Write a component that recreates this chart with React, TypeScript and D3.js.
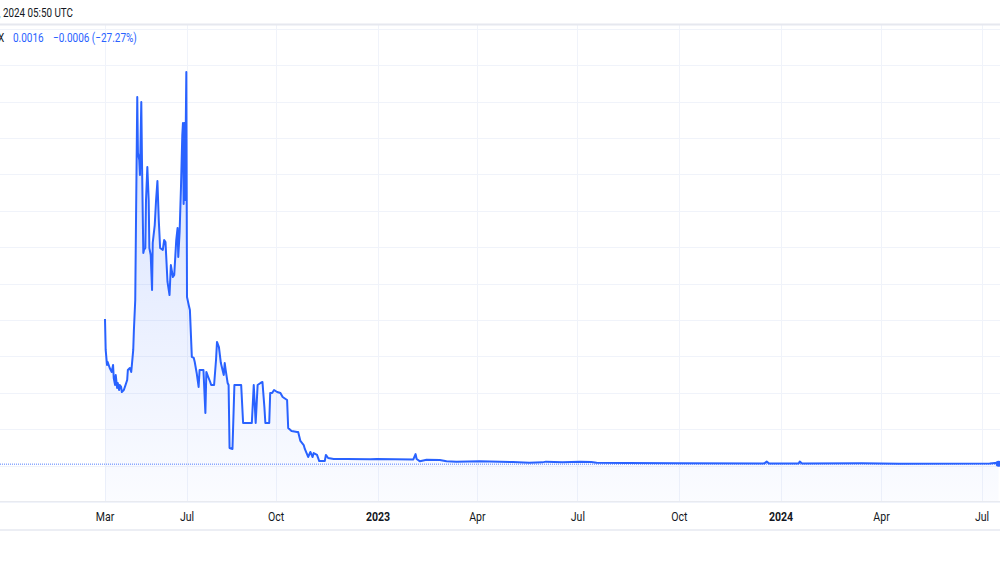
import React, { useEffect, useRef } from 'react';
import * as d3 from 'd3';

// series: daily close
const dates = [
  '2022-03-01', '2022-03-02', '2022-03-04', '2022-03-05', '2022-03-08', '2022-03-11', '2022-03-13', '2022-03-14',
  '2022-03-16', '2022-03-17', '2022-03-19', '2022-03-20', '2022-03-22', '2022-03-23', '2022-03-25', '2022-03-26',
  '2022-03-29', '2022-03-31', '2022-04-03', '2022-04-04', '2022-04-07', '2022-04-09', '2022-04-10', '2022-04-12',
  '2022-04-13', '2022-04-15', '2022-04-16', '2022-04-18', '2022-04-19', '2022-04-21', '2022-04-22', '2022-04-24',
  '2022-04-25', '2022-04-27', '2022-04-28', '2022-04-30', '2022-05-01', '2022-05-03', '2022-05-05', '2022-05-06',
  '2022-05-08', '2022-05-10', '2022-05-11', '2022-05-14', '2022-05-16', '2022-05-18', '2022-05-20', '2022-05-22',
  '2022-05-26', '2022-05-28', '2022-05-30', '2022-06-02', '2022-06-05', '2022-06-07', '2022-06-10', '2022-06-12',
  '2022-06-15', '2022-06-17', '2022-06-18', '2022-06-20', '2022-06-22', '2022-06-24', '2022-06-25', '2022-06-26',
  '2022-06-27', '2022-06-28', '2022-06-30', '2022-07-01',
  '2022-07-03', '2022-07-04', '2022-07-06', '2022-07-08', '2022-07-09', '2022-07-11', '2022-07-13', '2022-07-14',
  '2022-07-18', '2022-07-20', '2022-07-21', '2022-07-23', '2022-07-25', '2022-07-26', '2022-07-29', '2022-07-31',
  '2022-08-01', '2022-08-03', '2022-08-05', '2022-08-06', '2022-08-08', '2022-08-09', '2022-08-10', '2022-08-12',
  '2022-08-13', '2022-08-14', '2022-08-17', '2022-08-19', '2022-08-26', '2022-08-28', '2022-09-06', '2022-09-08',
  '2022-09-10', '2022-09-12', '2022-09-15', '2022-09-17', '2022-09-19', '2022-09-20', '2022-09-24', '2022-09-25',
  '2022-09-27', '2022-09-29',
  '2022-10-02', '2022-10-05', '2022-10-07', '2022-10-11', '2022-10-12', '2022-10-15', '2022-10-20', '2022-10-21',
  '2022-10-23', '2022-10-26', '2022-10-27', '2022-10-30', '2022-11-01', '2022-11-03', '2022-11-04', '2022-11-07',
  '2022-11-09', '2022-11-14', '2022-11-15', '2022-11-17', '2022-11-22', '2022-12-04', '2022-12-25', '2022-12-31',
  '2023-02-02', '2023-02-04', '2023-02-05', '2023-02-08', '2023-02-14', '2023-02-26', '2023-03-04', '2023-03-13',
  '2023-04-03', '2023-05-03', '2023-05-18', '2023-05-30', '2023-06-02', '2023-06-17', '2023-07-03', '2023-07-13',
  '2023-07-18', '2023-08-14', '2023-10-01', '2023-12-17', '2023-12-19', '2023-12-21', '2024-01-17', '2024-01-18',
  '2024-01-20', '2024-03-14', '2024-04-17', '2024-07-08', '2024-07-15', '2024-07-16',
];

const values = [
  0.1010, 0.0797, 0.0694, 0.0714, 0.0673, 0.0646, 0.0694, 0.0604,
  0.0556, 0.0625, 0.0536, 0.0570, 0.0522, 0.0556, 0.0543, 0.0508,
  0.0522, 0.0549, 0.0591, 0.0659, 0.0673, 0.0646, 0.0694, 0.0797,
  0.0934, 0.1140, 0.1621, 0.2534, 0.2150, 0.2102, 0.1999, 0.2500,
  0.2102, 0.1463, 0.1484, 0.1497, 0.1827, 0.2054, 0.1827, 0.1497,
  0.1449, 0.1209, 0.1532, 0.1655, 0.1827, 0.1957, 0.1690, 0.1497,
  0.1484, 0.1552, 0.1538, 0.1264, 0.1174, 0.1380, 0.1298, 0.1312,
  0.1552, 0.1635, 0.1435, 0.1607, 0.1909, 0.2273, 0.2356, 0.1799,
  0.2356, 0.1827, 0.2706, 0.1161,
  0.1099, 0.1071, 0.0749, 0.0742, 0.0714, 0.0639, 0.0543, 0.0659,
  0.0659, 0.0364, 0.0646, 0.0611, 0.0577, 0.0556, 0.0556, 0.0728,
  0.0852, 0.0817, 0.0707, 0.0680, 0.0625, 0.0707, 0.0659, 0.0570,
  0.0556, 0.0124, 0.0117, 0.0556, 0.0556, 0.0295, 0.0295, 0.0556,
  0.0295, 0.0556, 0.0570, 0.0577, 0.0405, 0.0295, 0.0295, 0.0501,
  0.0501, 0.0522,
  0.0508, 0.0501, 0.0474, 0.0453, 0.0261, 0.0240, 0.0234, 0.0234,
  0.0172, 0.0144, 0.0117, 0.0062, 0.0096, 0.0062, 0.0089, 0.0076,
  0.0034, 0.0034, 0.0076, 0.0055, 0.0048, 0.0048, 0.0046, 0.0048,
  0.0045, 0.0082, 0.0048, 0.0032, 0.0043, 0.0041, 0.0032, 0.0030,
  0.0032, 0.0027, 0.0023, 0.0025, 0.0030, 0.0025, 0.0030, 0.0027,
  0.0023, 0.0021, 0.0019, 0.0018, 0.0030, 0.0018, 0.0018, 0.0030,
  0.0017, 0.0019, 0.0016, 0.0017, 0.0022, 0.0016,
];

// time axis is bar-indexed in the original, so the spacing is uneven
const timeStops = ['2022-03-01', '2022-07-01', '2022-10-01', '2023-01-01', '2024-07-01'];
const tickDates = ['2022-03-01', '2022-07-01', '2022-10-01', '2023-01-01', '2023-04-01', '2023-07-01', '2023-10-01', '2024-01-01', '2024-04-01', '2024-07-01'];
const tickLabels = ['Mar', 'Jul', 'Oct', '2023', 'Apr', 'Jul', 'Oct', '2024', 'Apr', 'Jul'];
const priceTicks = [-0.025, 0, 0.025, 0.05, 0.075, 0.1, 0.125, 0.15, 0.175, 0.2, 0.225, 0.25, 0.275, 0.3];

const headerText = 'Jul 17, 2024 05:50 UTC';
const symbol = 'X';
const lastValue = '0.0016';
const changeText = '\u22120.0006 (\u221227.27%)';

const W = 1000;
const H = 562;
const BLUE = '#2962ff';
const FONT = 'Roboto, "Noto Sans", sans-serif';

const App: React.FC = () => {
  const svgRef = useRef<SVGSVGElement>(null);

  useEffect(() => {
    if (!svgRef.current) return;
    const svg = d3.select(svgRef.current).html('');
    const parse = d3.timeParse('%Y-%m-%d');

    const paneTop = 25;
    const paneBottom = 501;

    const x = d3.scaleTime()
      .domain(timeStops.map(d => parse(d) as Date))
      .range([105, 187, 276, 378, 982]);
    const y = d3.scaleLinear().domain([0, 0.25]).range([466, 102]);

    const data = dates.map((d, i) => ({ date: parse(d) as Date, value: values[i] }));

    svg.append('rect').attr('width', W).attr('height', H).attr('fill', '#ffffff');

    // grid
    svg.append('g').selectAll('line').data(priceTicks).enter().append('line')
      .attr('x1', 0).attr('x2', W)
      .attr('y1', d => y(d)).attr('y2', d => y(d))
      .attr('stroke', '#f0f3fa').attr('stroke-width', 1)
      .attr('shape-rendering', 'crispEdges');
    svg.append('g').selectAll('line').data(tickDates).enter().append('line')
      .attr('x1', d => x(parse(d) as Date)).attr('x2', d => x(parse(d) as Date))
      .attr('y1', paneTop).attr('y2', paneBottom)
      .attr('stroke', '#f0f3fa').attr('stroke-width', 1)
      .attr('shape-rendering', 'crispEdges');

    // area gradient
    const defs = svg.append('defs');
    const grad = defs.append('linearGradient').attr('id', 'areaFill')
      .attr('gradientUnits', 'userSpaceOnUse')
      .attr('x1', 0).attr('x2', 0).attr('y1', y(0.27)).attr('y2', paneBottom);
    grad.append('stop').attr('offset', '0%').attr('stop-color', BLUE).attr('stop-opacity', 0.2);
    grad.append('stop').attr('offset', '100%').attr('stop-color', BLUE).attr('stop-opacity', 0.02);

    const area = d3.area<{ date: Date; value: number }>()
      .x(d => x(d.date)).y0(paneBottom).y1(d => y(d.value));
    const line = d3.line<{ date: Date; value: number }>()
      .x(d => x(d.date)).y(d => y(d.value));

    svg.append('path').datum(data).attr('d', area).attr('fill', 'url(#areaFill)');

    // last price line
    const last = data[data.length - 1];
    svg.append('line')
      .attr('x1', 0).attr('x2', W)
      .attr('y1', y(last.value) + 0.5).attr('y2', y(last.value) + 0.5)
      .attr('stroke', BLUE).attr('stroke-width', 1).attr('stroke-dasharray', '1,1')
      .attr('opacity', 0.8);

    svg.append('path').datum(data).attr('d', line)
      .attr('fill', 'none').attr('stroke', BLUE).attr('stroke-width', 2)
      .attr('stroke-linejoin', 'round');

    svg.append('circle').attr('cx', x(last.date)).attr('cy', y(last.value))
      .attr('r', 3).attr('fill', BLUE);

    // header + separators
    svg.append('line').attr('x1', 0).attr('x2', W).attr('y1', 24.5).attr('y2', 24.5)
      .attr('stroke', '#e6e8ef').attr('stroke-width', 2);
    svg.append('line').attr('x1', 0).attr('x2', W).attr('y1', paneBottom + 0.5).attr('y2', paneBottom + 0.5)
      .attr('stroke', '#e8eaf0').attr('stroke-width', 1);
    svg.append('line').attr('x1', 0).attr('x2', W).attr('y1', 530).attr('y2', 530)
      .attr('stroke', '#eceef4').attr('stroke-width', 2);

    svg.append('text')
      .attr('transform', 'translate(73,17) scale(0.82,1)')
      .attr('text-anchor', 'end')
      .attr('font-family', FONT).attr('font-size', 12).attr('fill', '#131722')
      .text(headerText);

    // legend: symbol, last value, change
    const legendItems = [
      { text: symbol, x: -2, color: '#131722' },
      { text: lastValue, x: 13, color: BLUE },
      { text: changeText, x: 53, color: BLUE },
    ];
    svg.append('g').selectAll('text').data(legendItems).enter().append('text')
      .attr('transform', d => `translate(${d.x},42) scale(0.8,1)`)
      .attr('font-family', FONT).attr('font-size', 12.5)
      .attr('fill', d => d.color)
      .text(d => d.text);

    // time axis labels
    svg.append('g').selectAll('text').data(tickDates).enter().append('text')
      .attr('transform', d => `translate(${x(parse(d) as Date)},521) scale(0.88,1)`)
      .attr('text-anchor', 'middle')
      .attr('font-family', FONT).attr('font-size', 12)
      .attr('font-weight', (d, i) => (/^\d{4}$/.test(tickLabels[i]) ? 700 : 400))
      .attr('fill', '#131722')
      .text((d, i) => tickLabels[i]);
  }, []);

  return (
    <svg
      ref={svgRef}
      width={W}
      height={H}
      style={{ position: 'absolute', left: 0, top: 0, display: 'block' }}
    />
  );
};

export default App;
